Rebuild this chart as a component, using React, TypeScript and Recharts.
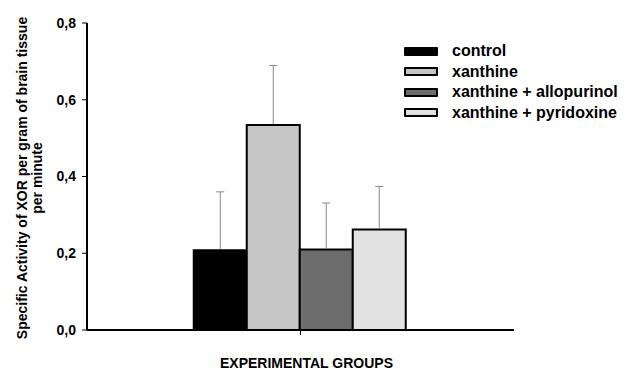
import React from 'react';
import { BarChart, Bar, XAxis, YAxis, Legend } from 'recharts';

const categories = ['groups'];
const seriesNames = ['control', 'xanthine', 'xanthine + allopurinol', 'xanthine + pyridoxine'];
const means = [0.208, 0.534, 0.21, 0.262];
const errors = [0.152, 0.155, 0.121, 0.112];
const fills = ['#000000', '#c6c6c6', '#6d6d6d', '#e2e2e2'];
const yTicks = [0, 0.2, 0.4, 0.6, 0.8];
const xTitle = 'EXPERIMENTAL GROUPS';
const yTitleLines = ['Specific Activity of XOR per gram of brain tissue', 'per minute'];

const FONT = '"Liberation Sans", Arial, sans-serif';

const data = categories.map((c) => {
  const row: any = { name: c };
  seriesNames.forEach((_, i) => {
    row['s' + i] = means[i];
  });
  return row;
});

const LegendContent = () => (
  <div style={{ fontFamily: FONT, fontWeight: 'bold', fontSize: 16, color: '#000' }}>
    {seriesNames.map((n, i) => (
      <div key={n} style={{ display: 'flex', alignItems: 'center', height: 20.5 }}>
        <div
          style={{
            width: 30,
            height: 5,
            background: fills[i],
            border: '2px solid #000',
            borderRadius: 1,
            marginRight: 14,
          }}
        />
        <span style={{ whiteSpace: 'nowrap' }}>{n}</span>
      </div>
    ))}
  </div>
);

// Upward-only error whisker, scaled with the bar's own pixel/value ratio
const makeErrLabel = (err: number) => (props: any) => {
  const { x, y, width, height, value } = props;
  const v = Array.isArray(value) ? value[1] : value;
  if (!v || !height) return null;
  const pxPerUnit = Math.abs(height) / v;
  const cx = x + width / 2;
  const top = y - err * pxPerUnit;
  return (
    <g>
      <line x1={cx} y1={y - 1} x2={cx} y2={top} stroke="#888" strokeWidth={1} />
      <line x1={cx - 4} y1={top} x2={cx + 4} y2={top} stroke="#888" strokeWidth={1} />
    </g>
  );
};

const YTitle = () => {
  const cy = 178;
  const xs = [22, 37];
  return (
    <g>
      {yTitleLines.map((t, i) => (
        <text
          key={i}
          x={xs[i]}
          y={cy}
          transform={`rotate(-90, ${xs[i]}, ${cy})`}
          textAnchor="middle"
          dominantBaseline="central"
          fontFamily={FONT}
          fontWeight="bold"
          fontSize={14}
          fill="#000"
        >
          {t}
        </text>
      ))}
    </g>
  );
};

const XTitle = (props: any) => {
  const vb = props.viewBox || {};
  const cx = vb.x + vb.width / 2 + 6;
  return (
    <text x={cx} y={368} textAnchor="middle" fontFamily={FONT} fontWeight="bold" fontSize={14} fill="#000">
      {xTitle}
    </text>
  );
};

export default function App() {
  return (
    <div style={{ position: 'absolute', left: 0, top: 0, background: '#fff' }}>
      <BarChart
        width={627}
        height={372}
        data={data}
        margin={{ top: 23, right: 113, bottom: 0, left: 0 }}
        barCategoryGap="25%"
        barGap={0}
      >
        <XAxis
          dataKey="name"
          height={42}
          tickSize={5}
          tickFormatter={() => ''}
          axisLine={{ stroke: '#000', strokeWidth: 2 }}
          tickLine={{ stroke: '#000', strokeWidth: 1 }}
          label={<XTitle />}
        />
        <YAxis
          width={87}
          domain={[0, 0.8]}
          ticks={yTicks}
          interval={0}
          tickSize={5}
          tickMargin={6}
          tickFormatter={(v: number) => v.toFixed(1).replace('.', ',')}
          tick={{ fill: '#000', fontFamily: FONT, fontWeight: 'bold', fontSize: 14 }}
          axisLine={{ stroke: '#000', strokeWidth: 2 }}
          tickLine={{ stroke: '#000', strokeWidth: 1 }}
          label={<YTitle />}
        />
        <Legend
          layout="vertical"
          align="center"
          verticalAlign="middle"
          content={<LegendContent />}
          wrapperStyle={{ left: 404, top: 41, width: 223, height: 84 }}
        />
        {seriesNames.map((n, i) => (
          <Bar
            key={n}
            dataKey={'s' + i}
            name={n}
            fill={fills[i]}
            stroke="#000"
            strokeWidth={2}
            isAnimationActive={false}
            label={makeErrLabel(errors[i])}
          />
        ))}
      </BarChart>
    </div>
  );
}
